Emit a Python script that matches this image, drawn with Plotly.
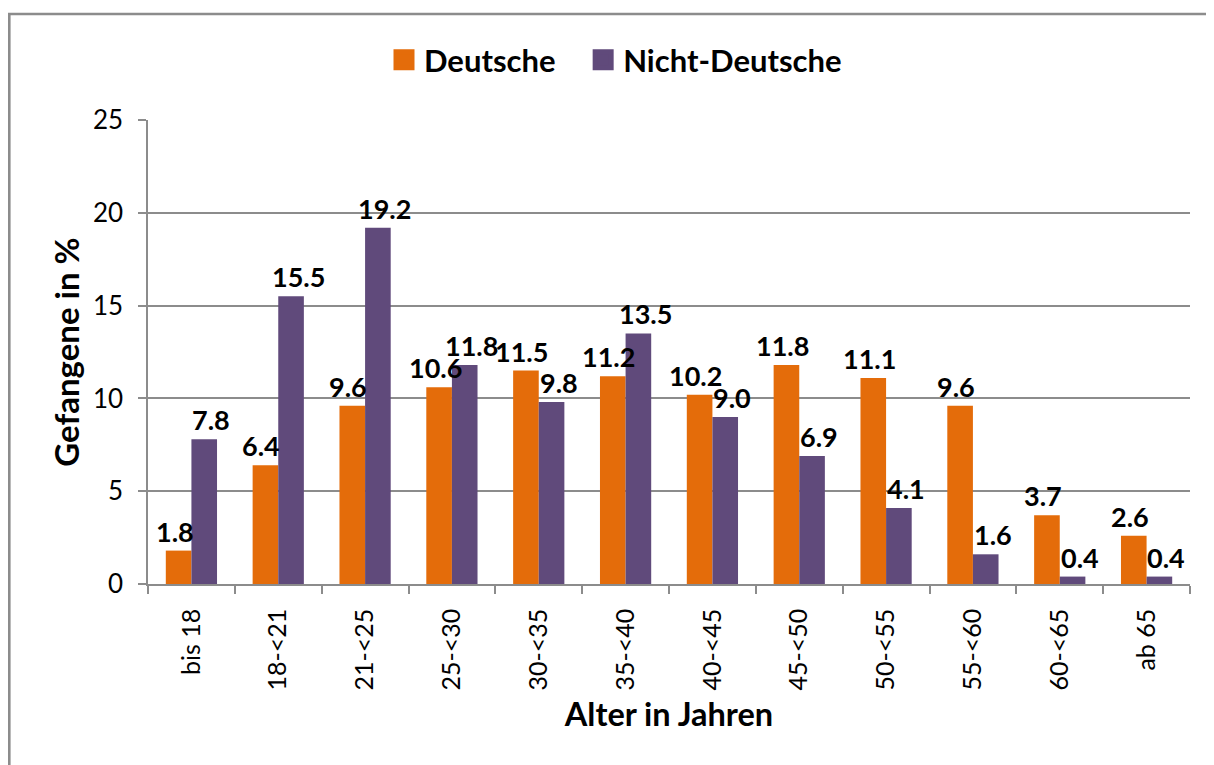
import plotly.graph_objects as go

categories = ["bis 18", "18-<21", "21-<25", "25-<30", "30-<35", "35-<40",
              "40-<45", "45-<50", "50-<55", "55-<60", "60-<65", "ab 65"]
deutsche = [1.8, 6.4, 9.6, 10.6, 11.5, 11.2, 10.2, 11.8, 11.1, 9.6, 3.7, 2.6]
nicht_deutsche = [7.8, 15.5, 19.2, 11.8, 9.8, 13.5, 9.0, 6.9, 4.1, 1.6, 0.4, 0.4]
series_names = ["Deutsche", "Nicht-Deutsche"]
colors = ["#E46C0A", "#604A7B"]
y_ticks = [0, 5, 10, 15, 20, 25]

FONT = "Lato"
GRID = "#8C8C8C"

# page has an 8px body margin -> figure drawn at (8, 8)
W, H = 1206, 757
L, R, T, B = 140, 24, 112, 181
pw, ph = W - L - R, H - T - B
BARGAP = 0.41
bar_px = pw / len(categories) * (1 - BARGAP) / 2
# label nudges (Excel pushes labels of neighbouring bars slightly apart)
label_nudge = [-4, 7]

fig = go.Figure()
for name, vals, col in zip(series_names, [deutsche, nicht_deutsche], colors):
    fig.add_trace(go.Bar(
        x=categories, y=vals, name=name, marker_color=col,
        marker_line_width=0, showlegend=False, hoverinfo="x+y+name",
    ))
# legend entries with large square swatches
legend_labels = ["Deutsche" + "\u00a0" * 3, "Nicht-Deutsche"]
for lab, col in zip(legend_labels, colors):
    fig.add_trace(go.Scatter(
        x=[None], y=[None], mode="markers", name=lab,
        marker=dict(symbol="square", size=16, color=col,
                    line=dict(color=col, width=5)),
    ))

# data labels on top of everything, positioned through the axes
annotations = []
for sign, nudge, vals in zip([-1, 1], label_nudge, [deutsche, nicht_deutsche]):
    for c, v in zip(categories, vals):
        annotations.append(dict(
            x=c, y=v, xref="x", yref="y", text=f"{v:.1f}",
            showarrow=False, yanchor="bottom", xanchor="center",
            xshift=sign * bar_px / 2 + nudge, yshift=1,
            font=dict(family=FONT, size=27, color="black", weight="bold"),
        ))

fig.update_layout(
    width=W, height=H,
    margin=dict(l=L, r=R, t=T, b=B, autoexpand=False),
    paper_bgcolor="white", plot_bgcolor="white",
    font=dict(family=FONT, color="black"),
    barmode="group", bargap=BARGAP, bargroupgap=0,
    annotations=annotations,
    legend=dict(
        orientation="h", x=(376 - L) / pw, xanchor="left",
        y=1 + (T - 52) / ph, yanchor="middle",
        font=dict(family=FONT, size=31, weight="bold"),
        itemclick=False, bgcolor="rgba(0,0,0,0)",
    ),
    xaxis=dict(
        type="category", tickangle=-90, tickson="boundaries",
        ticks="outside", ticklen=8, tickcolor=GRID, tickwidth=1.5,
        showline=True, linecolor=GRID, linewidth=1.5,
        tickfont=dict(family=FONT, size=25), ticklabelstandoff=13,
        title=dict(text="Alter in Jahren", standoff=14,
                   font=dict(family=FONT, size=32.5, weight="bold")),
        automargin=False,
    ),
    yaxis=dict(
        range=[0, 25], tickvals=y_ticks,
        ticks="outside", ticklen=8, tickcolor=GRID, tickwidth=1.5,
        showline=True, linecolor=GRID, linewidth=1.5,
        showgrid=True, gridcolor=GRID, gridwidth=1.5,
        zeroline=False,
        tickfont=dict(family=FONT, size=26), ticklabelstandoff=10,
        title=dict(text="Gefangene in %", standoff=3,
                   font=dict(family=FONT, size=33, weight="bold")),
        automargin=False,
    ),
    shapes=[dict(
        type="rect", xref="paper", yref="paper",
        x0=(1.3 - L) / pw, x1=1.2, y0=-0.6, y1=1 + (T - 6) / ph,
        line=dict(color=GRID, width=2.6), fillcolor="rgba(0,0,0,0)", layer="below",
    )],
)

fig.write_html("out.html")
